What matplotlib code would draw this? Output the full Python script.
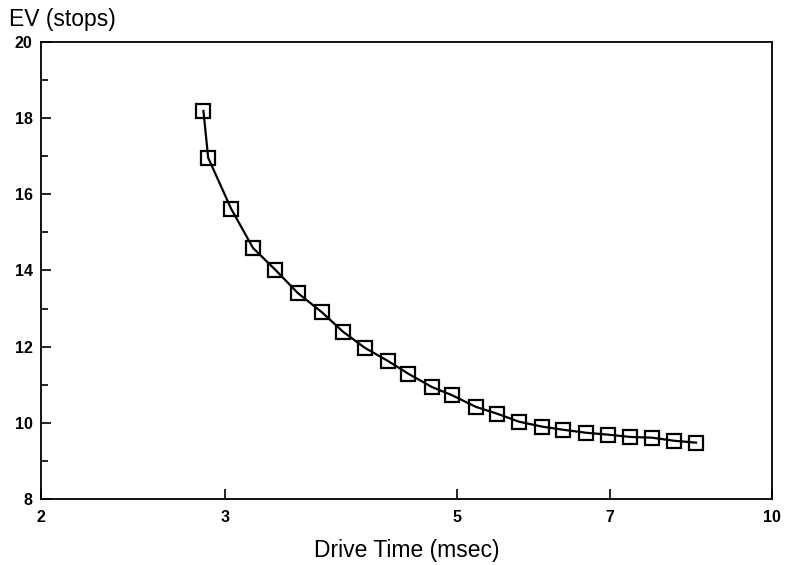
import numpy as np
import matplotlib.pyplot as plt
from matplotlib.ticker import FixedLocator, NullLocator, FixedFormatter

# drive time (msec) and exposure value (stops)
drive_time = [2.86, 2.89, 3.04, 3.19, 3.35, 3.52, 3.71, 3.89, 4.08, 4.29, 4.49, 4.73,
              4.94, 5.21, 5.46, 5.73, 6.03, 6.31, 6.64, 6.97, 7.32, 7.68, 8.06, 8.46]
ev_stops = [18.19, 16.96, 15.62, 14.59, 14.02, 13.41, 12.91, 12.39, 11.97, 11.63, 11.29, 10.94,
            10.73, 10.42, 10.24, 10.03, 9.90, 9.82, 9.74, 9.69, 9.63, 9.61, 9.53, 9.48]

x_ticks = [2, 3, 5, 7, 10]
x_labels = ['2', '3', '5', '7', '10']
y_ticks = [8, 10, 12, 14, 16, 18, 20]

plt.rcParams['font.family'] = ['Liberation Sans', 'DejaVu Sans']

fig = plt.figure(figsize=(7.85, 5.65), dpi=100)
ax = fig.add_axes([0.0522, 0.1168, 0.9312, 0.8089])

ax.plot(drive_time, ev_stops, color='black', lw=1.6, marker='s', ms=9.5,
        mfc='none', mec='black', mew=1.6)

ax.set_xscale('log')
ax.set_xlim(2, 10)
ax.set_ylim(8, 20)
ax.xaxis.set_major_locator(FixedLocator(x_ticks))
ax.xaxis.set_major_formatter(FixedFormatter(x_labels))
ax.xaxis.set_minor_locator(NullLocator())
ax.set_yticks(y_ticks)
ax.set_yticks(np.arange(9, 20, 2), minor=True)

ax.tick_params(axis='both', which='major', direction='in', length=7, width=1.2,
               labelsize=11.5, pad=8)
ax.tick_params(axis='y', which='minor', direction='in', length=5, width=1.2)
for lab in ax.get_xticklabels() + ax.get_yticklabels():
    lab.set_fontweight('bold')
ax.tick_params(axis='y', pad=6)

for s in ax.spines.values():
    s.set_linewidth(1.3)

ax.set_xlabel('Drive Time (msec)', fontsize=16.5, labelpad=10)
fig.text(0.012, 0.966, 'EV (stops)', fontsize=16.5, ha='left', va='center')

fig.savefig('out.png', dpi=100)
